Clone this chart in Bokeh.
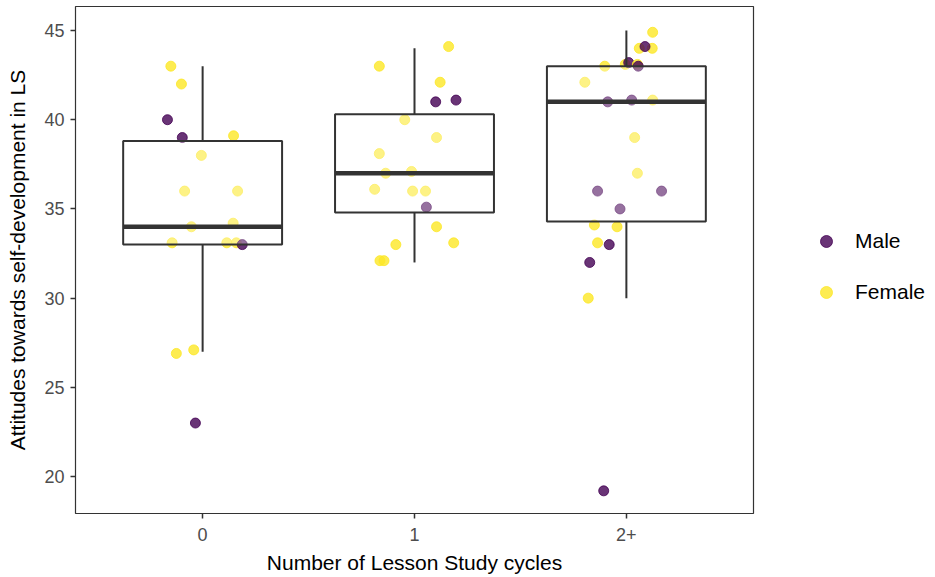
from bokeh.plotting import figure
from bokeh.layouts import row
from bokeh.models import (ColumnDataSource, FixedTicker, Legend, LegendItem)
from bokeh.embed import file_html
from bokeh.resources import INLINE

# ---------------- data ----------------
cycle_labels = ["0", "1", "2+"]
cycle_pos = [1, 2, 3]

# box statistics per cycle group
box_lower = [27.0, 32.0, 30.0]
box_q1 = [33.0, 34.8, 34.3]
box_median = [34.0, 37.0, 41.0]
box_q3 = [38.8, 40.3, 43.0]
box_upper = [43.0, 44.0, 45.0]

# jittered points (group index, gender, score, horizontal jitter)
pt_group = [1] * 17 + [2] * 19 + [3] * 25
pt_gender = [
    "F", "F", "M", "M", "F", "F", "F", "F", "F", "F", "F", "F", "F", "M", "F", "F", "M",
    "F", "F", "F", "M", "M", "F", "F", "F", "F", "F", "F", "F", "F", "M", "F", "F", "F", "F", "F",
    "F", "F", "F", "M", "F", "F", "M", "F", "M", "F", "M", "M", "F", "F", "F", "M", "M", "M",
    "F", "F", "F", "M", "M", "F", "M",
]
pt_score = [
    43.0, 42.0, 40.0, 39.0, 39.1, 38.0, 36.0, 36.0, 34.0, 34.2, 33.1, 33.1, 33.1, 33.0, 26.9, 27.1, 23.0,
    44.1, 43.0, 42.1, 41.0, 41.1, 40.0, 39.0, 38.1, 37.0, 37.1, 36.1, 36.0, 36.0, 35.1, 34.0, 33.0, 33.1, 32.1, 32.1,
    44.9, 44.0, 44.0, 44.1, 43.0, 43.1, 43.2, 43.1, 43.0, 42.1, 41.0, 41.1, 41.1, 39.0, 37.0, 36.0, 36.0, 35.0,
    34.1, 34.0, 33.1, 33.0, 32.0, 30.0, 19.2,
]
pt_jitter = [
    -0.150, -0.100, -0.166, -0.096, 0.146, -0.006, -0.085, 0.165, -0.053, 0.144, -0.144, 0.114, 0.159, 0.187, -0.124, -0.042, -0.034,
    0.161, -0.166, 0.121, 0.100, 0.196, -0.046, 0.104, -0.166, -0.136, -0.014, -0.188, -0.009, 0.052, 0.056, 0.104, -0.088, 0.185, -0.163, -0.144,
    0.124, 0.061, 0.122, 0.088, -0.102, -0.005, 0.011, 0.052, 0.056, -0.196, -0.088, 0.025, 0.124, 0.039, 0.052, -0.136, 0.166, -0.030,
    -0.151, -0.044, -0.136, -0.081, -0.173, -0.180, -0.107,
]

legend_keys = ["M", "F"]
gender_names = {"M": "Male", "F": "Female"}
gender_colors = {"M": "#440154", "F": "#FDE725"}

# ---------------- main figure ----------------
p = figure(width=755, height=577, output_backend="svg", toolbar_location=None,
           x_range=(0.4, 3.6), y_range=(17.93, 46.345),
           min_border_left=75, min_border_right=2, min_border_top=6, min_border_bottom=64)
p.background_fill_color = "white"
p.border_fill_color = "white"
p.outline_line_color = "#333333"
p.outline_line_width = 1.2
p.xgrid.visible = False
p.ygrid.visible = False

# points
px = [g + j for g, j in zip(pt_group, pt_jitter)]
pc = [gender_colors[g] for g in pt_gender]
src = ColumnDataSource(dict(x=px, y=pt_score, c=pc))
p.scatter("x", "y", source=src, size=10, fill_color="c", line_color="c",
          fill_alpha=0.8, line_alpha=0.8)

# boxes (drawn over the points, semi-transparent white fill)
bsrc = ColumnDataSource(dict(x=cycle_pos, lo=box_lower, q1=box_q1, med=box_median,
                             q3=box_q3, hi=box_upper,
                             x0=[c - 0.375 for c in cycle_pos],
                             x1=[c + 0.375 for c in cycle_pos]))
p.segment(x0="x", x1="x", y0="q3", y1="hi", source=bsrc, line_color="#333333", line_width=2)
p.segment(x0="x", x1="x", y0="lo", y1="q1", source=bsrc, line_color="#333333", line_width=2)
p.vbar(x="x", width=0.75, bottom="q1", top="q3", source=bsrc,
       fill_color="white", fill_alpha=0.3, line_color="#333333", line_width=2)
p.segment(x0="x0", x1="x1", y0="med", y1="med", source=bsrc,
          line_color="#333333", line_width=4.5)

# axes
for ax in (p.xaxis[0], p.yaxis[0]):
    ax.axis_line_color = None
    ax.major_tick_line_color = "#333333"
    ax.major_tick_line_width = 1.5
    ax.major_tick_out = 5
    ax.major_tick_in = 0
    ax.minor_tick_line_color = None
    ax.major_label_text_font = "Liberation Sans"
    ax.major_label_text_font_size = "18px"
    ax.major_label_text_color = "#4D4D4D"
    ax.axis_label_text_font = "Liberation Sans"
    ax.axis_label_text_font_size = "21px"
    ax.axis_label_text_font_style = "normal"
    ax.axis_label_text_color = "black"

p.xaxis.ticker = FixedTicker(ticks=cycle_pos)
p.xaxis.major_label_overrides = {pos: lab for pos, lab in zip(cycle_pos, cycle_labels)}
p.xaxis.axis_label = "Number of Lesson Study cycles"
p.xaxis.major_label_standoff = 9
p.xaxis.axis_label_standoff = 7

p.yaxis.ticker = FixedTicker(ticks=[20, 25, 30, 35, 40, 45])
p.yaxis.axis_label = "Attitudes towards self-development in LS"
p.yaxis.major_label_standoff = 6
p.yaxis.axis_label_standoff = 12

# ---------------- legend figure ----------------
lg = figure(width=180, height=577, output_backend="svg", toolbar_location=None,
            x_range=(0, 1), y_range=(0, 1),
            min_border_left=0, min_border_right=0, min_border_top=0, min_border_bottom=0)
lg.axis.visible = False
lg.grid.visible = False
lg.outline_line_color = None
lg.background_fill_color = "white"
lg.border_fill_color = "white"

legend_items = []
for key in legend_keys:
    r = lg.scatter(x=[float("nan")], y=[float("nan")], size=12,
                   fill_color=gender_colors[key], line_color=gender_colors[key],
                   fill_alpha=0.8, line_alpha=0.8)
    legend_items.append(LegendItem(label=gender_names[key], renderers=[r]))
legend = Legend(items=legend_items, location=(56, 206),
                glyph_width=30, glyph_height=30, label_height=30,
                label_standoff=14, spacing=21, padding=0, margin=0,
                border_line_alpha=0, background_fill_alpha=0,
                label_text_font="Liberation Sans", label_text_font_size="21px",
                label_text_color="black")
lg.add_layout(legend, "center")

layout = row(p, lg, spacing=0)
open("out.html", "w").write(file_html(layout, INLINE))
